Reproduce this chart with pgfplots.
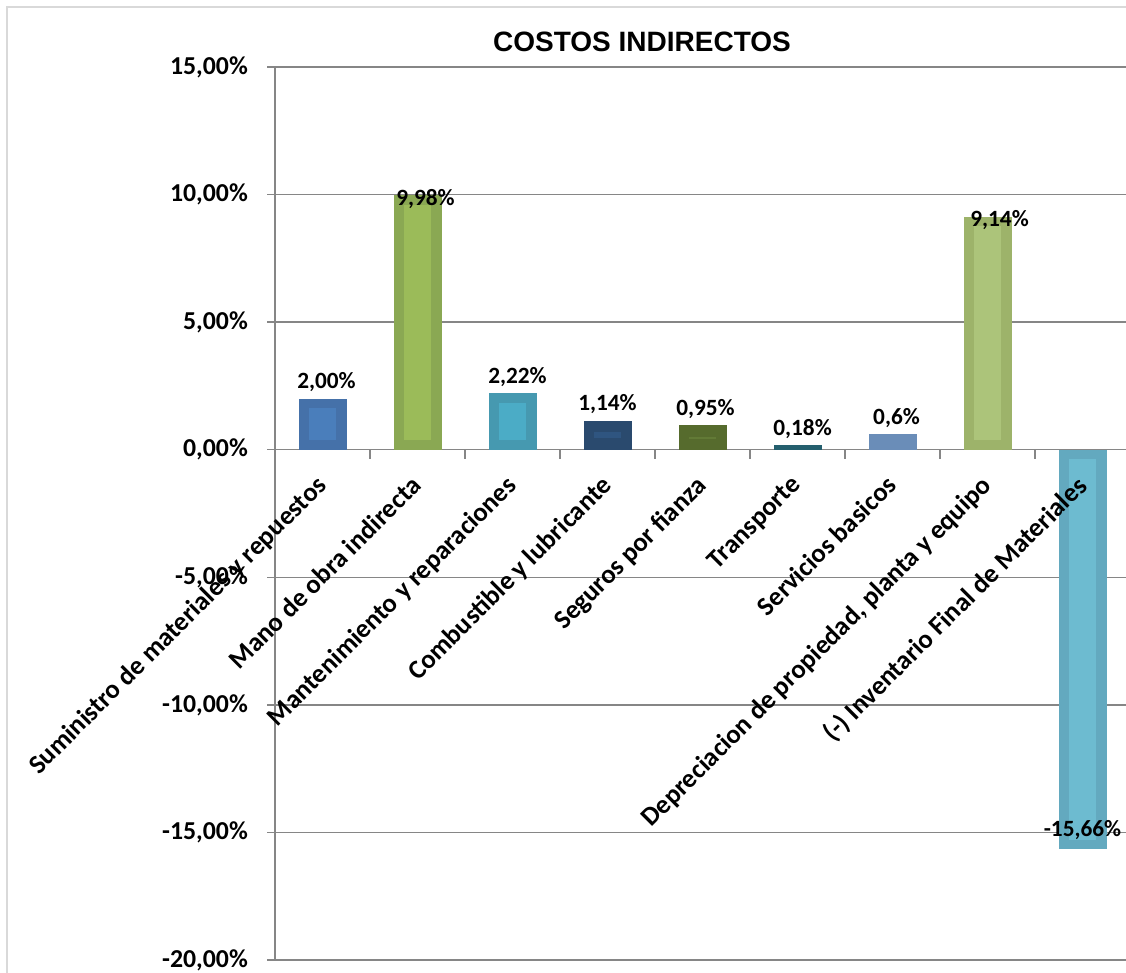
\documentclass[border=0pt]{standalone}
\usepackage{fontspec}
\setmainfont{Carlito}
\newfontfamily\titlefont{Liberation Sans}
\usepackage{pgfplots}
\pgfplotsset{compat=1.18}
\definecolor{axgray}{HTML}{868686}
\definecolor{bordergray}{HTML}{D9D9D9}
\definecolor{c1o}{HTML}{4571A9}\definecolor{c1i}{HTML}{4A7EBB}
\definecolor{c2o}{HTML}{8AA853}\definecolor{c2i}{HTML}{9BBB59}
\definecolor{c3o}{HTML}{4699B0}\definecolor{c3i}{HTML}{4BACC6}
\definecolor{c4o}{HTML}{2A4A6E}\definecolor{c4i}{HTML}{2F5580}
\definecolor{c5o}{HTML}{566B2D}\definecolor{c5i}{HTML}{627A36}
\definecolor{c6o}{HTML}{245F6E}
\definecolor{c7o}{HTML}{6A8DB8}
\definecolor{c8o}{HTML}{9DB36A}\definecolor{c8i}{HTML}{ACC47A}
\definecolor{c9o}{HTML}{63A9BF}\definecolor{c9i}{HTML}{6DBBD0}
\pgfplotsset{
  layers/labelsontop/.define layer set={axis background,axis grid,axis ticks,axis lines,pre main,main,axis tick labels,axis descriptions,axis foreground}{
    grid style={/pgfplots/on layer=axis grid},
    tick style={/pgfplots/on layer=axis ticks},
    axis line style={/pgfplots/on layer=axis lines},
    ticklabel style={/pgfplots/on layer=axis tick labels},
    label style={/pgfplots/on layer=axis descriptions},
    title style={/pgfplots/on layer=axis descriptions},
  },
  mybar/.style={ybar, bar width=48pt, bar shift=0pt, draw=none, fill=#1,
    point meta=explicit symbolic, nodes near coords={\pgfplotspointmeta}},
  inner/.style={draw=none, mark=none, forget plot, error bars/.cd, y dir=both, y explicit, error mark=none,
    error bar style={draw=#1, line width=27pt, line cap=butt}},
  lababove/.style={nodes near coords style={font=\fontsize{23.3}{28}\selectfont\bfseries, text=black, anchor=base, inner sep=0pt, yshift=10pt, xshift=#1}},
  labin/.style={nodes near coords style={font=\fontsize{23.3}{28}\selectfont\bfseries, text=black, anchor=base, inner sep=0pt, yshift=-10pt, xshift=#1}},
  labneg/.style={nodes near coords style={font=\fontsize{23.3}{28}\selectfont\bfseries, text=black, anchor=base, inner sep=0pt, yshift=13pt, xshift=#1}},
}
\begin{document}
\begin{tikzpicture}[x=1pt,y=1pt]
\draw[bordergray, line width=1.5pt] (7pt,-30pt) -- (7pt,965pt) -- (1160pt,965pt);
\begin{axis}[
  set layers=labelsontop,
  at={(275pt,12pt)}, anchor=south west,
  scale only axis, width=855pt, height=893pt,
  xmin=-0.5, xmax=8.5, ymin=-20, ymax=15,
  enlargelimits=false, clip=false,
  axis x line=middle, axis y line=left,
  axis line style={-, draw=axgray, line width=1.5pt},
  tick align=outside,
  hide obscured x ticks=false, hide obscured y ticks=false,
  ytick={-20,-15,...,15},
  /pgf/number format/assume math mode=true,
  yticklabel={\pgfmathprintnumber[fixed,fixed zerofill,precision=2,use comma]{\tick}\%},
  yticklabel style={font=\fontsize{25.8}{31}\selectfont\bfseries, inner sep=0pt, anchor=east, xshift=-19pt},
  ymajorgrids, grid style={axgray, line width=1.5pt},
  tick style={axgray, line width=1.5pt},
  major tick length=8pt, minor tick length=9pt,
  xtick={0,...,8},
  xticklabels={Suministro de materiales y repuestos, Mano de obra indirecta, Mantenimiento y reparaciones, Combustible y lubricante, Seguros por fianza, Transporte, Servicios basicos, {Depreciacion de propiedad, planta y equipo}, (-) Inventario Final de Materiales},
  major x tick style={draw=none},
  minor xtick={0.5,1.5,...,7.5},
  xticklabel style={font=\fontsize{26.6}{32}\selectfont\bfseries, xshift=-8pt, yshift=-16pt, rotate=45, anchor=north east, inner sep=0pt},
]
\addplot[mybar=c1o, lababove=4pt] coordinates {(0,2.00) [2,00\%]};
\addplot[mybar=c2o, labin=8pt] coordinates {(1,9.98) [9,98\%]};
\addplot[mybar=c3o, lababove=5pt] coordinates {(2,2.22) [2,22\%]};
\addplot[mybar=c4o, lababove=0pt] coordinates {(3,1.14) [1,14\%]};
\addplot[mybar=c5o, lababove=3pt] coordinates {(4,0.95) [0,95\%]};
\addplot[mybar=c6o, lababove=5pt] coordinates {(5,0.18) [0,18\%]};
\addplot[mybar=c7o, lababove=4pt] coordinates {(6,0.60) [0,6\%]};
\addplot[mybar=c8o, labin=12pt] coordinates {(7,9.14) [9,14\%]};
\addplot[mybar=c9o, labneg=0pt] coordinates {(8,-15.66) [-15,66\%]};
% inner bevel panels (centre and half-height, in %)
\addplot[inner=c1i] coordinates {(0,1.00) +- (0,0.63)};
\addplot[inner=c2i] coordinates {(1,4.99) +- (0,4.62)};
\addplot[inner=c3i] coordinates {(2,1.11) +- (0,0.74)};
\addplot[inner=c4i] coordinates {(3,0.57) +- (0,0.13)};
\addplot[inner=c5i] coordinates {(4,0.475) +- (0,0.04)};
\addplot[inner=c8i] coordinates {(7,4.57) +- (0,4.20)};
\addplot[inner=c9i] coordinates {(8,-7.83) +- (0,7.46)};
\end{axis}
\node[font=\titlefont\bfseries\fontsize{28}{33}\selectfont, anchor=base] at (642pt,920pt) {COSTOS INDIRECTOS};
\pgfresetboundingbox
\useasboundingbox (0,0) rectangle (1126pt,972pt);
\end{tikzpicture}
\end{document}
